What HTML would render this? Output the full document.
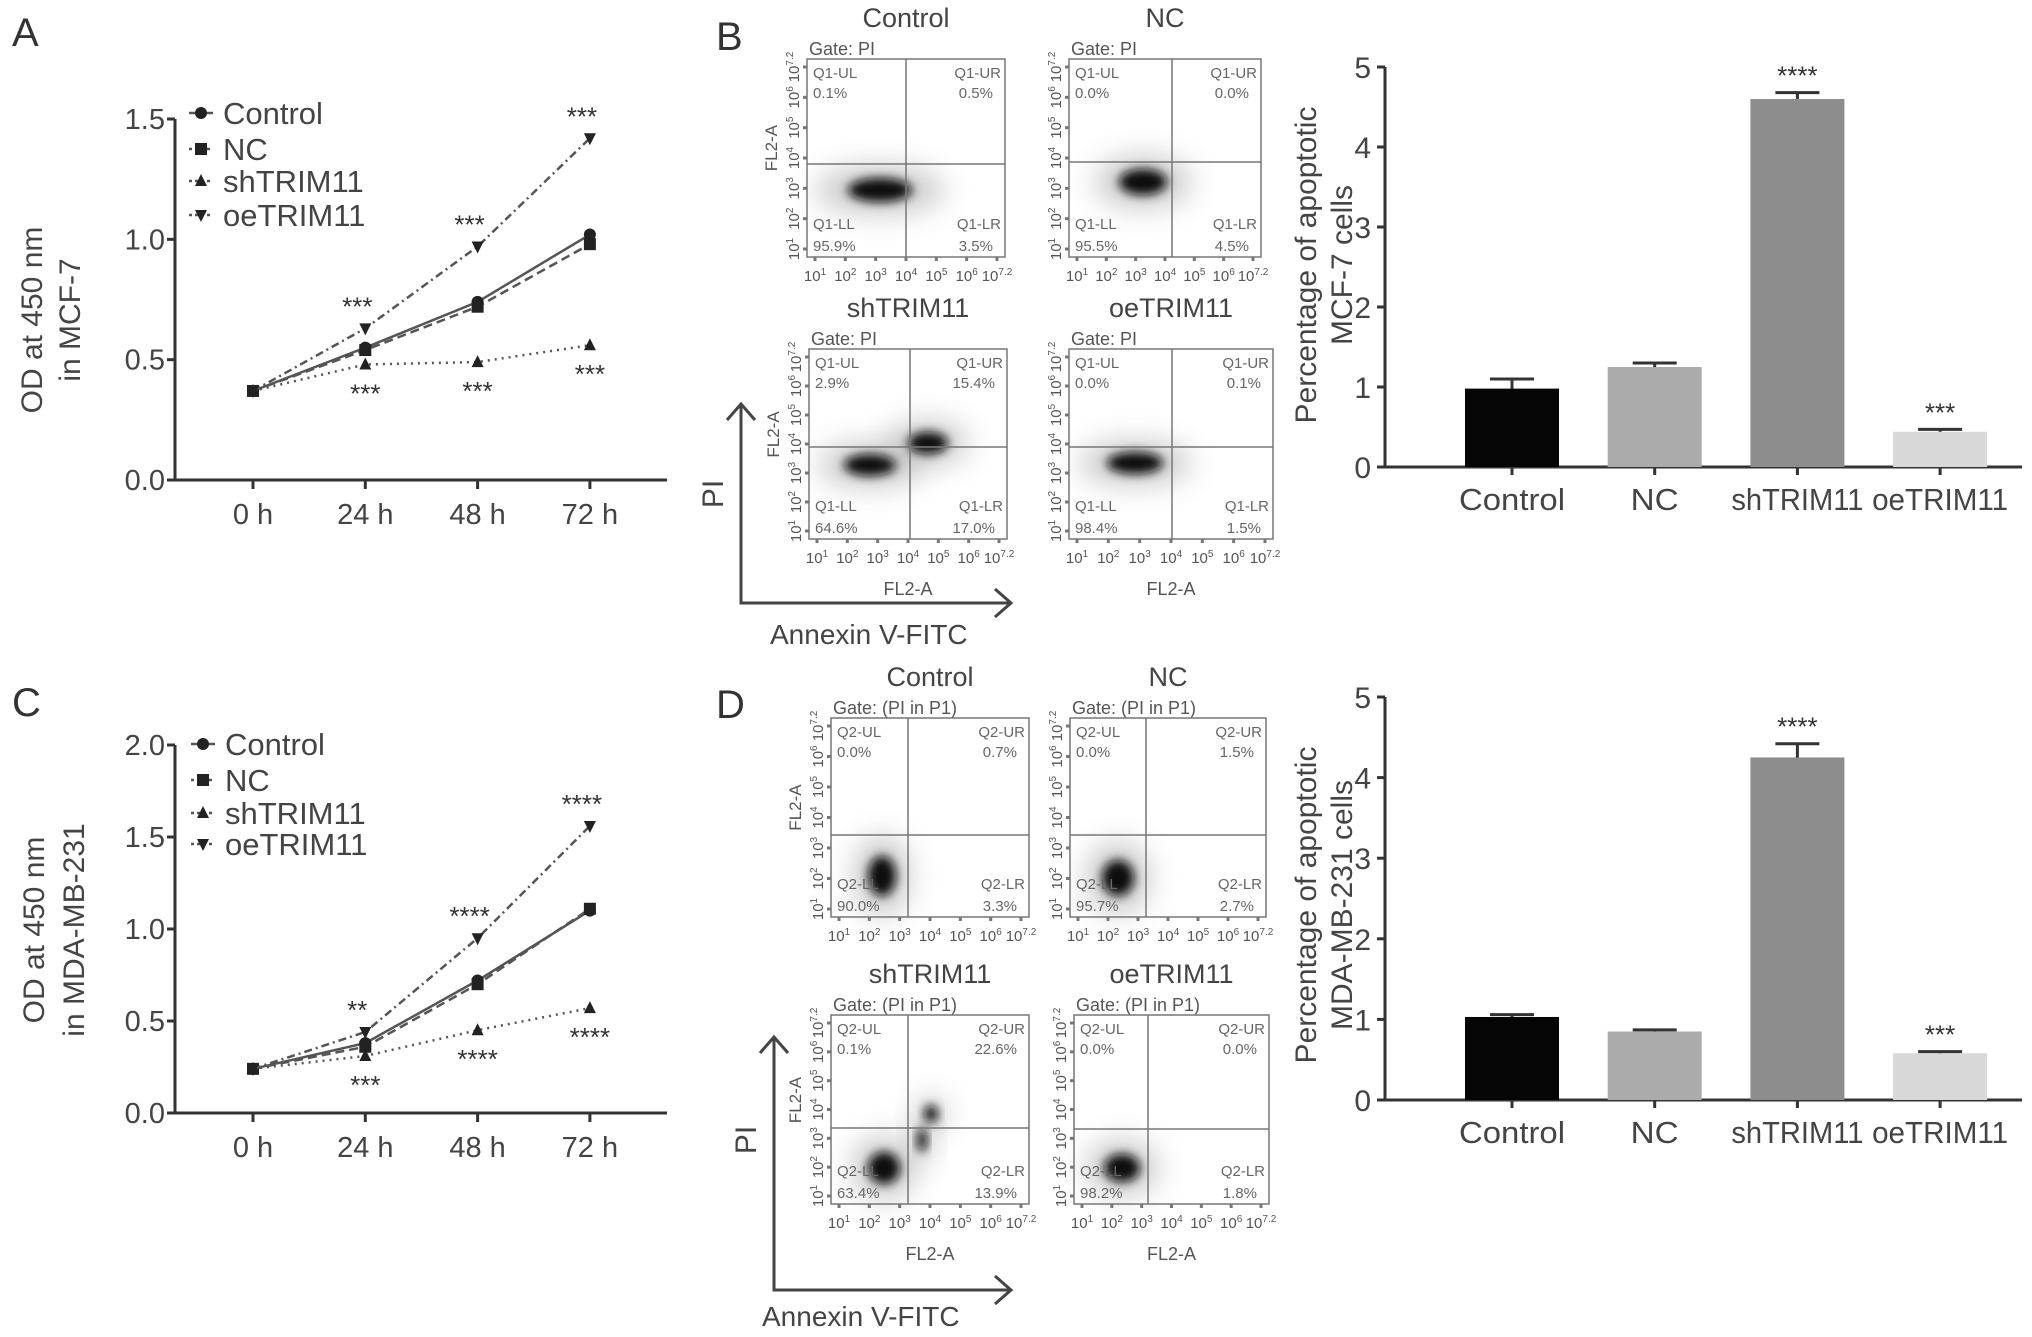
<!DOCTYPE html>
<html><head><meta charset="utf-8"><style>
html,body{margin:0;padding:0;background:#fff;}
svg{display:block;font-family:"Liberation Sans",sans-serif;}
</style></head><body>
<svg id="fig" width="2032" height="1337" viewBox="0 0 2032 1337" xmlns="http://www.w3.org/2000/svg">
<defs>
<filter id="blur4" x="-50%" y="-50%" width="200%" height="200%"><feGaussianBlur stdDeviation="5"/></filter>
<filter id="blur10" x="-80%" y="-80%" width="260%" height="260%"><feGaussianBlur stdDeviation="14"/></filter>
</defs>
<text x="12" y="46" font-size="40" fill="#333">A</text>
<text x="12" y="716" font-size="40" fill="#333">C</text>
<text x="716" y="50" font-size="40" fill="#333">B</text>
<text x="716" y="718" font-size="40" fill="#333">D</text>
</svg>
<script>
// ---------- Line chart data (A: MCF-7, C: MDA-MB-231) ----------
const timeLabels = ["0 h", "24 h", "48 h", "72 h"];
const seriesNames = ["Control", "NC", "shTRIM11", "oeTRIM11"];
const aControl = [0.37, 0.55, 0.74, 1.02];
const aNC = [0.37, 0.54, 0.72, 0.98];
const aSh = [0.37, 0.48, 0.49, 0.56];
const aOe = [0.37, 0.63, 0.97, 1.42];
const aTicks = [0.0, 0.5, 1.0, 1.5];
const aOeStars = ["", "***", "***", "***"];
const aShStars = ["", "***", "***", "***"];
const cControl = [0.24, 0.38, 0.72, 1.10];
const cNC = [0.24, 0.36, 0.70, 1.11];
const cSh = [0.24, 0.31, 0.45, 0.57];
const cOe = [0.24, 0.44, 0.95, 1.56];
const cTicks = [0.0, 0.5, 1.0, 1.5, 2.0];
const cOeStars = ["", "**", "****", "****"];
const cShStars = ["", "***", "****", "****"];
// ---------- Bar chart data (B, D) ----------
const barCats = ["Control", "NC", "shTRIM11", "oeTRIM11"];
const bValues = [0.98, 1.25, 4.60, 0.44];
const bErrors = [0.12, 0.05, 0.08, 0.03];
const bStars = ["", "", "****", "***"];
const dValues = [1.03, 0.85, 4.25, 0.58];
const dErrors = [0.03, 0.02, 0.17, 0.02];
const dStars = ["", "", "****", "***"];
const barTicks = [0, 1, 2, 3, 4, 5];

const NS = "http://www.w3.org/2000/svg";
const svg = document.getElementById("fig");
function mk(tag, attrs, parent) {
  const e = document.createElementNS(NS, tag);
  for (const k in attrs) e.setAttribute(k, attrs[k]);
  (parent || svg).appendChild(e);
  return e;
}
function txt(x, y, s, size, attrs, parent) {
  const a = Object.assign({x: x, y: y, "font-size": size, fill: "#444"}, attrs || {});
  const t = mk("text", a, parent);
  t.textContent = s;
  return t;
}

// ---------- line chart ----------
function lineChart(opt) {
  const g = mk("g", {});
  
  
  const x0 = 175, x1 = 667, yTop = opt.yTop, yBot = opt.yBot;
  const ymax = opt.ticks[opt.ticks.length - 1];
  const ys = v => yBot - (v / ymax) * (yBot - yTop);
  const xs = i => 253 + i * 112.3;
  const ax = mk("path", {d: `M${x0} ${yTop} L${x0} ${yBot} L${x1} ${yBot}`, stroke: "#333", "stroke-width": 3, fill: "none"}, g);
  
  
  opt.ticks.forEach(t => {
    mk("line", {x1: x0 - 8, x2: x0, y1: ys(t), y2: ys(t), stroke: "#333", "stroke-width": 3}, g);
    const l = txt(x0 - 10, ys(t) + 10, t.toFixed(1), 29, {"text-anchor": "end"}, g);
    
    
  });
  timeLabels.forEach((s, i) => {
    mk("line", {x1: xs(i), x2: xs(i), y1: yBot, y2: yBot + 9, stroke: "#333", "stroke-width": 3}, g);
    const l = txt(xs(i), yBot + 44, s, 29, {"text-anchor": "middle"}, g);
    
    
  });
  const cy = opt.titleY;
  const t1 = txt(0, 0, "OD at 450 nm", 30, {"text-anchor": "middle", transform: `translate(${opt.tx1},${cy}) rotate(-90)`}, g);
  
  
  const t2 = txt(0, 0, opt.sub, 30, {"text-anchor": "middle", transform: `translate(${opt.tx2},${cy}) rotate(-90)`}, g);
  
  
  const dashes = ["none", "9,5", "2,5", "8,4,2,4"];
  const shapes = ["circle", "square", "up", "down"];
  function marker(shape, x, y, p) {
    let m;
    if (shape === "circle") m = mk("circle", {cx: x, cy: y, r: 6, fill: "#222"}, p);
    else if (shape === "square") m = mk("rect", {x: x - 6, y: y - 6, width: 12, height: 12, fill: "#222"}, p);
    else if (shape === "up") m = mk("path", {d: `M${x} ${y - 7} L${x + 6} ${y + 5} L${x - 6} ${y + 5}Z`, fill: "#222"}, p);
    else m = mk("path", {d: `M${x} ${y + 7} L${x + 6} ${y - 5} L${x - 6} ${y - 5}Z`, fill: "#222"}, p);
    return m;
  }
  opt.series.forEach((vals, si) => {
    const sg = mk("g", {}, g);
    
    
    mk("polyline", {points: vals.map((v, i) => xs(i) + "," + ys(v)).join(" "), fill: "none", stroke: "#555", "stroke-width": 2.5, "stroke-dasharray": dashes[si]}, sg);
    vals.forEach((v, i) => {
      const m = marker(shapes[si], xs(i), ys(v), sg);
      
      
    });
    const ly = opt.legY[si];
    const lg = mk("g", {}, g);
    
    
    mk("line", {x1: opt.legX - 12, x2: opt.legX + 12, y1: ly, y2: ly, stroke: "#555", "stroke-width": 2.5, "stroke-dasharray": si === 0 ? "none" : "3,3"}, lg);
    marker(shapes[si], opt.legX, ly, lg);
    txt(opt.legX + 22, ly + 11, seriesNames[si], 31, {}, lg);
  });
  opt.oeStars.forEach((s, i) => {
    if (!s) return;
    const l = txt(xs(i) - 8, ys(opt.series[3][i]) - 13, s, 26, {"text-anchor": "middle", fill: "#333"}, g);
    
    
  });
  opt.shStars.forEach((s, i) => {
    if (!s) return;
    const l = txt(xs(i), ys(opt.series[2][i]) + 38, s, 26, {"text-anchor": "middle", fill: "#333"}, g);
    
    
  });
}
lineChart({name: "line-chart-mcf7", yTop: 119, yBot: 480, ticks: aTicks, series: [aControl, aNC, aSh, aOe],
  oeStars: aOeStars, shStars: aShStars, tx1: 42, tx2: 80, titleY: 320, sub: "in MCF-7", legX: 201, legY: [113, 149, 181, 215]});
lineChart({name: "line-chart-mda", yTop: 745, yBot: 1113, ticks: cTicks, series: [cControl, cNC, cSh, cOe],
  oeStars: cOeStars, shStars: cShStars, tx1: 44, tx2: 84, titleY: 930, sub: "in MDA-MB-231", legX: 203, legY: [744, 780, 813, 844]});

// ---------- bar chart ----------
function barChart(opt) {
  const g = mk("g", {});
  
  
  const x0 = 1385, x1 = 2022, yTop = opt.yTop, yBot = opt.yBot;
  const ys = v => yBot - (v / 5) * (yBot - yTop);
  const xs = i => 1512 + i * 142.7;
  const colors = ["#050505", "#ababab", "#8d8d8d", "#d8d8d8"];
  const widths = [106, 48, 132, 136];
  mk("path", {d: `M${x0} ${yTop} L${x0} ${yBot} L${x1} ${yBot}`, stroke: "#333", "stroke-width": 3, fill: "none"}, g);
  barTicks.forEach(t => {
    mk("line", {x1: x0 - 8, x2: x0, y1: ys(t), y2: ys(t), stroke: "#333", "stroke-width": 3}, g);
    const l = txt(x0 - 14, ys(t) + 11, String(t), 30, {"text-anchor": "end"}, g);
    
    
  });
  opt.values.forEach((v, i) => {
    const b = mk("rect", {x: xs(i) - 47, y: ys(v), width: 94, height: yBot - ys(v), fill: colors[i]}, g);
    
    
    const top = ys(v + opt.errors[i]);
    const eb = mk("path", {d: `M${xs(i)} ${ys(v)} L${xs(i)} ${top} M${xs(i) - 22} ${top} L${xs(i) + 22} ${top}`, stroke: "#333", "stroke-width": 3, fill: "none"}, g);
    
    
    mk("line", {x1: xs(i), x2: xs(i), y1: yBot, y2: yBot + 8, stroke: "#333", "stroke-width": 3}, g);
    const l = txt(xs(i), yBot + 43, barCats[i], 31, {"text-anchor": "middle", textLength: widths[i], lengthAdjust: "spacingAndGlyphs"}, g);
    
    
    if (opt.stars[i]) {
      const s = txt(xs(i), top - 8, opt.stars[i], 26, {"text-anchor": "middle", fill: "#333"}, g);
      
      
    }
  });
  const t1 = txt(0, 0, "Percentage of apoptotic", 30, {"text-anchor": "middle", transform: `translate(1316,${opt.titleY}) rotate(-90)`}, g);
  
  
  const t2 = txt(0, 0, opt.sub, 30, {"text-anchor": "middle", transform: `translate(1352,${opt.titleY}) rotate(-90)`}, g);
  
  
}
barChart({name: "bar-chart-mcf7", yTop: 67, yBot: 467, values: bValues, errors: bErrors, stars: bStars, sub: "MCF-7 cells", titleY: 265});
barChart({name: "bar-chart-mda", yTop: 697, yBot: 1100, values: dValues, errors: dErrors, stars: dStars, sub: "MDA-MB-231 cells", titleY: 905});

// ---------- flow cytometry plots ----------
function flow(o) {
  const g = mk("g", {});
  
  
  const {x, y, w, h} = o;
  const t = txt(x + w / 2, y - 32, o.title, 27, {"text-anchor": "middle"}, g);
  
  
  txt(x + 2, y - 4, o.gate, 18, {fill: "#555"}, g);
  o.clusters.forEach(c => {
    mk("ellipse", {cx: c[0], cy: c[1], rx: c[2] * 2.0, ry: c[3] * 2.0, fill: "#888", opacity: 0.45, filter: "url(#blur10)"}, g);
    mk("ellipse", {cx: c[0], cy: c[1], rx: c[2], ry: c[3], fill: "#111", filter: "url(#blur4)"}, g);
  });
  mk("rect", {x: x, y: y, width: w, height: h, fill: "none", stroke: "#777", "stroke-width": 1.5}, g);
  mk("line", {x1: o.vx, x2: o.vx, y1: y, y2: y + h, stroke: "#777", "stroke-width": 1.5}, g);
  mk("line", {x1: x, x2: x + w, y1: o.hy, y2: o.hy, stroke: "#777", "stroke-width": 1.5}, g);
  const q = o.q, p = o.p;
  txt(x + 6, y + 19, q + "-UL", 15, {fill: "#666"}, g);
  txt(x + 6, y + 39, p[0], 15, {fill: "#666"}, g);
  txt(x + w - 4, y + 19, q + "-UR", 15, {fill: "#666", "text-anchor": "end"}, g);
  txt(x + w - 12, y + 39, p[1], 15, {fill: "#666", "text-anchor": "end"}, g);
  txt(x + 6, y + h - 28, q + "-LL", 15, {fill: "#666"}, g);
  txt(x + 6, y + h - 6, p[2], 15, {fill: "#666"}, g);
  txt(x + w - 4, y + h - 28, q + "-LR", 15, {fill: "#666", "text-anchor": "end"}, g);
  txt(x + w - 12, y + h - 6, p[3], 15, {fill: "#666", "text-anchor": "end"}, g);
  const exps = ["1", "2", "3", "4", "5", "6", "7.2"];
  exps.forEach((e, i) => {
    const fx = x + 8 + i * (w - 16) / 6;
    const tt = txt(fx, y + h + 24, "10", 15, {"text-anchor": "middle", fill: "#555"}, g);
    const sup = mk("tspan", {dy: -6, "font-size": 10}, tt); sup.textContent = e;
    const fy = y + h - 8 - i * (h - 16) / 6;
    const ty = txt(0, 0, "10", 15, {"text-anchor": "middle", fill: "#555", transform: `translate(${x - 8},${fy}) rotate(-90)`}, g);
    const sup2 = mk("tspan", {dy: -6, "font-size": 10}, ty); sup2.textContent = e;
    mk("line", {x1: x - 4, x2: x, y1: fy, y2: fy, stroke: "#777", "stroke-width": 3}, g);
    mk("line", {x1: fx, x2: fx, y1: y + h, y2: y + h + 4, stroke: "#777", "stroke-width": 3}, g);
  });
  if (o.ylab) txt(0, 0, "FL2-A", 17, {"text-anchor": "middle", fill: "#555", transform: `translate(${x - 30},${y + h * 0.45}) rotate(-90)`}, g);
  if (o.xlab) txt(x + w / 2, y + h + 56, "FL2-A", 18, {"text-anchor": "middle", fill: "#555"}, g);
}
flow({id: "b1", title: "Control", gate: "Gate: PI", x: 807, y: 59, w: 198, h: 198, vx: 906, hy: 164, q: "Q1", p: ["0.1%", "0.5%", "95.9%", "3.5%"], clusters: [[880, 190, 32, 12]], ylab: true});
flow({id: "b2", title: "NC", gate: "Gate: PI", x: 1069, y: 59, w: 192, h: 198, vx: 1172, hy: 162, q: "Q1", p: ["0.0%", "0.0%", "95.5%", "4.5%"], clusters: [[1143, 182, 24, 13]]});
flow({id: "b3", title: "shTRIM11", gate: "Gate: PI", x: 809, y: 349, w: 198, h: 190, vx: 910, hy: 447, q: "Q1", p: ["2.9%", "15.4%", "64.6%", "17.0%"], clusters: [[870, 465, 26, 11], [928, 443, 20, 11]], ylab: true, xlab: true});
flow({id: "b4", title: "oeTRIM11", gate: "Gate: PI", x: 1069, y: 349, w: 204, h: 190, vx: 1172, hy: 447, q: "Q1", p: ["0.0%", "0.1%", "98.4%", "1.5%"], clusters: [[1135, 463, 28, 11]], xlab: true});
flow({id: "d1", title: "Control", gate: "Gate: (PI in P1)", x: 831, y: 718, w: 198, h: 199, vx: 908, hy: 835, q: "Q2", p: ["0.0%", "0.7%", "90.0%", "3.3%"], clusters: [[882, 876, 14, 20]], ylab: true});
flow({id: "d2", title: "NC", gate: "Gate: (PI in P1)", x: 1070, y: 718, w: 196, h: 199, vx: 1146, hy: 835, q: "Q2", p: ["0.0%", "1.5%", "95.7%", "2.7%"], clusters: [[1118, 878, 16, 18]]});
flow({id: "d3", title: "shTRIM11", gate: "Gate: (PI in P1)", x: 831, y: 1015, w: 198, h: 189, vx: 908, hy: 1128, q: "Q2", p: ["0.1%", "22.6%", "63.4%", "13.9%"], clusters: [[884, 1168, 16, 16], [931, 1114, 7, 9], [922, 1140, 5, 12]], ylab: true, xlab: true});
flow({id: "d4", title: "oeTRIM11", gate: "Gate: (PI in P1)", x: 1074, y: 1015, w: 195, h: 189, vx: 1148, hy: 1129, q: "Q2", p: ["0.0%", "0.0%", "98.2%", "1.8%"], clusters: [[1122, 1168, 18, 14]], xlab: true});

function arrows(ax, ayTop, ayBot, axRight, piY, annX, annY, name) {
  const g = mk("g", {});
  
  
  mk("path", {d: `M${ax} ${ayTop} L${ax} ${ayBot} L${axRight} ${ayBot}`, stroke: "#444", "stroke-width": 3, fill: "none"}, g);
  mk("path", {d: `M${ax - 14} ${ayTop + 16} L${ax} ${ayTop} L${ax + 14} ${ayTop + 16}`, stroke: "#444", "stroke-width": 3, fill: "none"}, g);
  mk("path", {d: `M${axRight - 16} ${ayBot - 14} L${axRight} ${ayBot} L${axRight - 16} ${ayBot + 14}`, stroke: "#444", "stroke-width": 3, fill: "none"}, g);
  txt(0, 0, "PI", 30, {"text-anchor": "middle", transform: `translate(${ax - 18},${piY}) rotate(-90)`}, g);
  txt(annX, annY, "Annexin V-FITC", 28, {}, g);
}
arrows(741, 404, 603, 1011, 494, 770, 644, "pi-annexin-axes-b");
arrows(774, 1037, 1290, 1011, 1140, 762, 1326, "pi-annexin-axes-d");
</script>
</body></html>
